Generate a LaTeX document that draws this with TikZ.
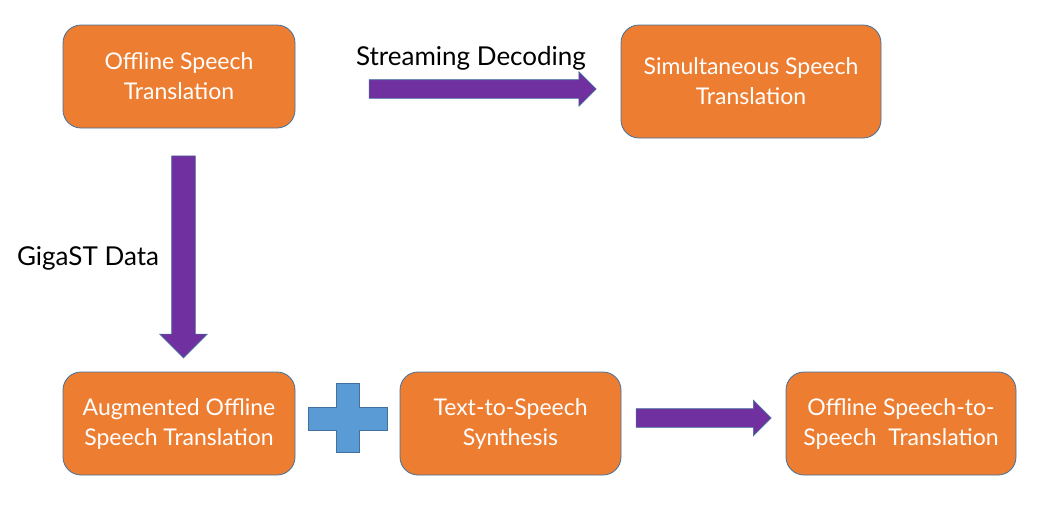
\documentclass[tikz,border=0pt]{standalone}
\usepackage{fontspec}
\setmainfont{Lato}
\usepackage{tikz}
\usetikzlibrary{shapes.arrows, positioning}

\definecolor{boxorange}{HTML}{ED7D31}
\definecolor{boxline}{HTML}{41719C}
\definecolor{arrowpurple}{HTML}{7030A0}
\definecolor{plusblue}{HTML}{5B9BD5}

\tikzset{
  stage/.style={rectangle, draw=boxline, line width=0.8pt, rounded corners=18pt, fill=boxorange,
    text=white, align=center, font=\fontsize{23}{30}\selectfont},
  bigarrow/.style={single arrow, draw=boxline, line width=0.6pt, fill=arrowpurple, inner sep=0pt},
  label/.style={font=\fontsize{26}{30}\selectfont, text=black}
}

\begin{document}
\begin{tikzpicture}[x=1pt, y=-1pt]
      \useasboundingbox (0,0) rectangle (1038,509);

      % Boxes
      \node[stage, minimum width=232pt, minimum height=103pt] (offline) at (179,76.5) {Offline Speech\\Translation};
      \node[stage, minimum width=260pt, minimum height=113pt] (simul) at (751,81.5) {Simultaneous Speech\\Translation};
      \node[stage, minimum width=232pt, minimum height=103pt] (augment) at (179,423.5) {Augmented Offline\\Speech Translation};
      \node[stage, minimum width=221pt, minimum height=103pt] (tts) at (510.5,423.5) {Text-to-Speech\\Synthesis};
      \node[stage, minimum width=230pt, minimum height=103pt] (s2st) at (901,423.5) {Offline Speech-to-\\Speech~~Translation};

      % Block arrows
      \node[bigarrow, text height=9pt, text depth=9pt, single arrow head extend=8pt, minimum height=227pt] (decode) at (478,89) {};
      \node[bigarrow, text height=11.5pt, text depth=11.5pt, single arrow head extend=12pt, minimum height=202pt, rotate=-90] (giga) at (183.5,251) {};
      \node[bigarrow, text height=9pt, text depth=9pt, single arrow head extend=8.5pt, minimum height=135pt] (synth) at (699,418) {};

      % Plus sign
      \filldraw[fill=plusblue, draw=boxline, line width=0.6pt]
        (336,383) -- (359,383) -- (359,407) -- (387,407) -- (387,430) -- (359,430)
        -- (359,452) -- (336,452) -- (336,430) -- (308,430) -- (308,407) -- (336,407) -- cycle;

      % Labels
      \node[label] (decodelbl) at (471,58) {Streaming Decoding};
      \node[label] (gigalbl) at (88,258) {GigaST Data};
\end{tikzpicture}
\end{document}
